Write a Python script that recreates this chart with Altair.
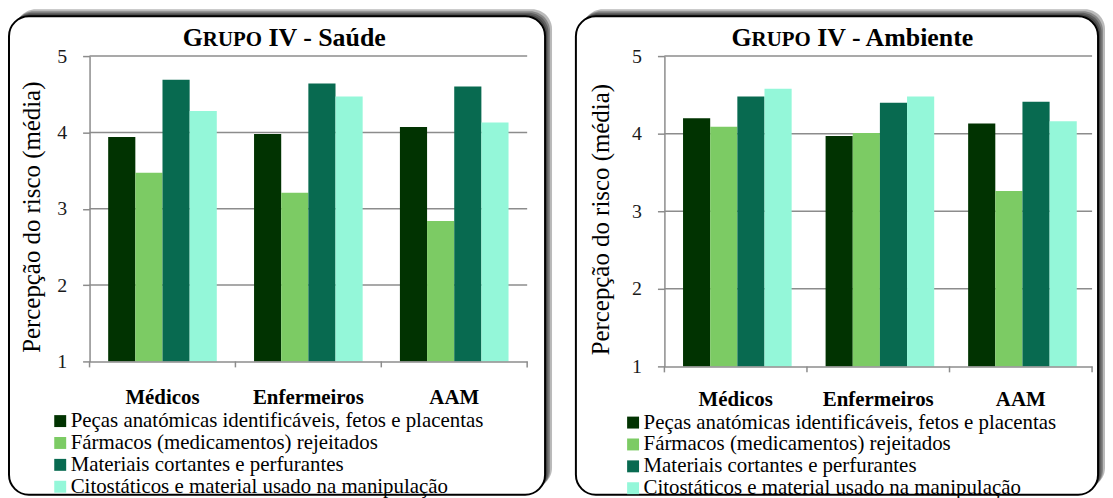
import altair as alt
import pandas as pd

groups = ["Médicos", "Enfermeiros", "AAM"]
series = [
    "Peças anatómicas identificáveis, fetos e placentas",
    "Fármacos (medicamentos) rejeitados",
    "Materiais cortantes e perfurantes",
    "Citostáticos e material usado na manipulação",
]
colors = ["#013301", "#7CCB64", "#086A50", "#94F7D9"]

saude_pecas = [3.94, 3.98, 4.07]
saude_farmacos = [3.47, 3.21, 2.84]
saude_cortantes = [4.69, 4.64, 4.60]
saude_citostaticos = [4.28, 4.47, 4.13]

ambiente_pecas = [4.20, 3.97, 4.13]
ambiente_farmacos = [4.09, 4.01, 3.26]
ambiente_cortantes = [4.48, 4.40, 4.41]
ambiente_citostaticos = [4.58, 4.48, 4.16]

y_ticks = [1, 2, 3, 4, 5]
grid_values = [2, 3, 4, 5]

GRAY = "#8c8c8c"
SERIF = "'Liberation Serif', 'Times New Roman', Times, 'DejaVu Serif', serif"

# Times-Bold advance widths (em) for title layout (small caps)
BOLD_W = {"G": .778, "R": .722, "U": .722, "P": .611, "O": .778, " ": .25,
          "I": .389, "V": .722, "-": .333, "S": .556, "a": .5, "ú": .556,
          "d": .556, "e": .444, "A": .722, "m": .833, "b": .556, "i": .278,
          "n": .556, "t": .333}


def text_w(s, size):
    return sum(BOLD_W.get(c, .5) for c in s) * size


def panel(series_values, title_rest, width, height, title_cx, frame, legend_x, legend_dy,
          ytitle_x, xlabel_pad):
    rows = []
    for s, vals in zip(series, series_values):
        for g, v in zip(groups, vals):
            rows.append({"grupo": g, "serie": s, "valor": v})
    df = pd.DataFrame(rows)
    one = alt.Data(values=[{"k": 0}])

    xscale = alt.Scale(domain=groups, paddingInner=0, paddingOuter=0)
    yscale = alt.Scale(domain=[1, 5], nice=False, zero=False)
    xaxis = alt.Axis(title=None, labelAngle=0, ticks=False, tickSize=0,
                     labelFont=SERIF, labelFontWeight="bold", labelFontSize=21,
                     labelColor="black", labelPadding=xlabel_pad, domainColor=GRAY,
                     domainWidth=1.5, grid=False, zindex=1)
    yaxis = alt.Axis(values=y_ticks, grid=False, title="Percepção do risco (média)",
                     labelFont=SERIF, labelFontSize=20, labelColor="#1a1a1a",
                     labelPadding=16, tickSize=7, tickColor=GRAY, tickWidth=1.5,
                     domainColor=GRAY, domainWidth=1.5,
                     titleFont=SERIF, titleFontSize=25, titleFontWeight="normal",
                     titleColor="black", titleX=ytitle_x, titleY=height / 2 + 8,
                     zindex=1)

    fx0, fx1, fy0, fy1 = frame
    layers = []
    for k in (2, 3.5, 5, 7):
        layers.append(
            alt.Chart(one).mark_rect(fill="black", opacity=0.27, cornerRadius=20).encode(
                x=alt.value(fx0 + k), x2=alt.value(fx1 + k),
                y=alt.value(fy0 - k), y2=alt.value(fy1 - k))
        )
    layers.append(
        alt.Chart(one).mark_rect(fill="white", stroke="black", strokeWidth=2, cornerRadius=20).encode(
            x=alt.value(fx0), x2=alt.value(fx1), y=alt.value(fy0), y2=alt.value(fy1))
    )
    grid_df = pd.DataFrame({"v": grid_values})
    layers.append(
        alt.Chart(grid_df).mark_rule(color=GRAY, strokeWidth=1.5).encode(
            y=alt.Y("v:Q", scale=yscale, axis=yaxis),
            x=alt.value(0), x2=alt.value(width))
    )
    bars = alt.Chart(df).mark_bar().encode(
        x=alt.X("grupo:N", sort=groups, scale=xscale, axis=xaxis),
        xOffset=alt.XOffset("serie:N", sort=series,
                            scale=alt.Scale(domain=series, paddingOuter=0.686, paddingInner=0)),
        y=alt.Y("valor:Q", scale=yscale, axis=yaxis),
        y2=alt.datum(1),
        color=alt.Color("serie:N", sort=series, scale=alt.Scale(domain=series, range=colors),
                        legend=alt.Legend(orient="none", legendX=legend_x,
                                          legendY=height + legend_dy,
                                          title=None, direction="vertical", symbolType="square",
                                          symbolSize=144, symbolStrokeWidth=0, symbolOpacity=1,
                                          labelFont=SERIF, labelFontSize=21, labelColor="black",
                                          labelLimit=900, rowPadding=0, labelOffset=0,
                                          zindex=1)),
    )
    layers.append(bars)
    tick_df = pd.DataFrame({"grupo": groups})
    layers.append(
        alt.Chart(tick_df).mark_rule(color=GRAY, strokeWidth=1.5).encode(
            x=alt.X("grupo:N", sort=groups, scale=xscale, bandPosition=0, axis=xaxis),
            y=alt.value(height), y2=alt.value(height + 6))
    )
    layers.append(
        alt.Chart(tick_df).transform_filter(alt.datum.grupo == groups[-1]).mark_rule(
            color=GRAY, strokeWidth=1.5).encode(
            x=alt.X("grupo:N", sort=groups, scale=xscale, bandPosition=1, axis=xaxis),
            y=alt.value(height), y2=alt.value(height + 6))
    )
    # Title in small caps: "G" + "RUPO" (smaller) + " " + rest
    big, small = 26, 21
    parts = [("G", big, 0), ("RUPO", small, text_w(" ", big)), (title_rest, big, 0)]
    total = sum(text_w(s, z) + gap for s, z, gap in parts)
    x0 = title_cx - total / 2
    for s, z, gap in parts:
        layers.append(
            alt.Chart(one).mark_text(text=s, font=SERIF, fontWeight="bold", fontSize=z,
                                     align="left", baseline="alphabetic", color="black").encode(
                x=alt.value(x0), y=alt.value(-10))
        )
        x0 += text_w(s, z) + gap
    return alt.layer(*layers).properties(width=width, height=height)


left = panel([saude_pecas, saude_farmacos, saude_cortantes, saude_citostaticos],
             "IV - Saúde", 440, 307, 196, (-81, 458, -40, 441), -40, 49.5, -45, 25)
right = panel([ambiente_pecas, ambiente_farmacos, ambiente_cortantes, ambiente_citostaticos],
              "IV - Ambiente", 430, 312, 190, (-89, 436, -40, 441), -42, 46, -51, 22)

chart = alt.hconcat(left, right, spacing=23).resolve_scale(
    color="independent").resolve_legend(color="independent").properties(
    padding={"left": 0, "top": 0, "right": 0, "bottom": 0}, background="white"
).configure_view(stroke=None)

chart.save("out.html", embed_options={"renderer": "svg", "actions": False})
